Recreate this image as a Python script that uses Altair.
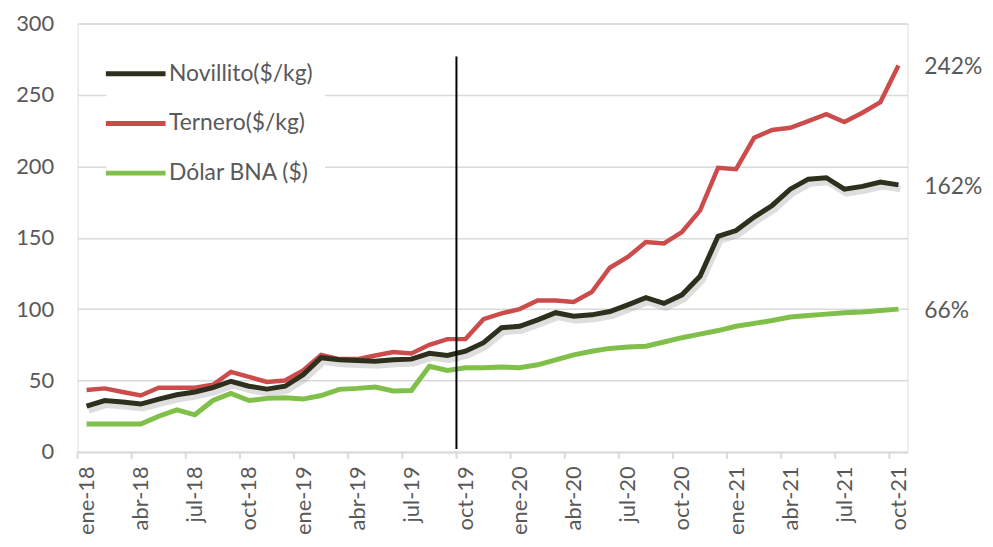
import altair as alt
import pandas as pd

# ---- data ----
meses = ["ene", "feb", "mar", "abr", "may", "jun", "jul", "ago", "sep", "oct", "nov", "dic"]
periodos = [f"{m}-{a}" for a in ["18", "19", "20", "21"] for m in meses][:46]

novillito = [32, 36, 35, 33.5, 37, 40, 42, 45, 49.5, 46, 44, 46,
             54, 66, 64.5, 64, 63.5, 64.5, 65, 69, 67.5, 70.5, 76.5, 87,
             88, 92.5, 97.5, 95, 96, 98.3, 103, 108, 104, 110, 123, 151,
             155, 164.5, 172.6, 184, 191, 192, 184, 186, 189, 187]
ternero = [43.4, 44.5, 42, 39.5, 45, 45, 45, 47, 56, 52.5, 49, 50,
           57, 68, 65, 65, 67.5, 70, 69, 75, 79, 79, 93, 97,
           100, 106, 106, 105, 112, 129, 136.5, 147, 146, 154, 169, 199,
           198, 220, 225.5, 227, 231.7, 236.6, 231, 237.5, 245, 270.7]
dolar = [19.5, 19.5, 19.5, 19.5, 25, 29.5, 26, 36, 41, 36, 37.5, 38,
         37, 39.5, 43.8, 44.5, 45.5, 42.7, 43, 60, 57, 59, 59, 59.5,
         59, 61, 64.5, 68, 70.5, 72.5, 73.5, 74, 77, 80, 82.5, 85,
         88, 90, 92, 94.5, 95.5, 96.5, 97.5, 98, 99, 100]

series = ["Novillito($/kg)", "Ternero($/kg)", "Dólar BNA ($)"]
colores = ["#2f2f1e", "#cc4c4c", "#80c04a"]
anotaciones = ["162%", "242%", "66%"]

tick_vals = list(range(0, 46, 3))
tick_labels = [periodos[i] for i in tick_vals]
tick_bounds = [v - 0.5 for v in tick_vals]

vline_x = [20.5]
vline_y = [2]
vline_y2 = [277]

# ---- tables ----
rows = []
for name, vals in zip(series, [novillito, ternero, dolar]):
    for i, v in enumerate(vals):
        rows.append({"idx": i, "periodo": periodos[i], "serie": name, "valor": v})
df = pd.DataFrame(rows)

ann_df = pd.DataFrame({
    "idx": [45, 45, 45],
    "valor": [novillito[-1], ternero[-1], dolar[-1]],
    "texto": anotaciones,
})
vline_df = pd.DataFrame({"x": vline_x, "y": vline_y, "y2": vline_y2})
ticks_df = pd.DataFrame({"x": tick_bounds})

FONT = "Lato"
GRAY = "#595959"
GRID = "#d9d9d9"
H = 431

label_expr = "[" + ",".join(f"'{t}'" for t in tick_labels) + "][round(datum.value/3)]"

x_scale = alt.Scale(domain=[-0.5, 45.5], nice=False, zero=False)
x_enc = alt.X(
    "idx:Q",
    scale=x_scale,
    axis=alt.Axis(
        values=tick_vals, labelExpr=label_expr, labelAngle=-90,
        labelFontSize=22, labelColor=GRAY, labelFont=FONT, labelPadding=14,
        ticks=False, domainColor=GRID, domainWidth=2, grid=False, title=None,
    ),
)
y_enc = alt.Y(
    "valor:Q",
    scale=alt.Scale(domain=[0, 300], nice=False),
    axis=alt.Axis(
        values=[0, 50, 100, 150, 200, 250, 300], labelFontSize=22,
        labelColor=GRAY, labelFont=FONT, labelPadding=24, ticks=False,
        domain=False, gridColor=GRID, gridWidth=1.5, title=None,
    ),
)

color_enc = alt.Color(
    "serie:N",
    scale=alt.Scale(domain=series, range=colores),
    legend=alt.Legend(
        title=None, orient="none", legendX=29, legendY=21, padding=12,
        symbolType="M-2,0H2", symbolSize=900, symbolStrokeWidth=5,
        labelFontSize=23, labelFont=FONT, labelColor=GRAY, labelOffset=16,
        rowPadding=20, fillColor="white", direction="vertical",
    ),
)

base = alt.Chart(df).encode(x=x_enc, y=y_enc, color=color_enc)

line_green = base.transform_filter(alt.datum.serie == series[2]).mark_line(strokeWidth=5)
line_red = base.transform_filter(alt.datum.serie == series[1]).mark_line(strokeWidth=4.5)
shadow = alt.Chart(df).transform_filter(alt.datum.serie == series[0]).mark_line(
    strokeWidth=7, color="#a0a0a0", opacity=0.35, xOffset=2, yOffset=4
).encode(x=x_enc, y=y_enc)
line_black = base.transform_filter(alt.datum.serie == series[0]).mark_line(strokeWidth=5)

axis_ticks = alt.Chart(ticks_df).mark_rule(color=GRID, strokeWidth=2).encode(
    x=alt.X("x:Q", scale=x_scale), y=alt.value(H), y2=alt.value(H + 7)
)

vline = alt.Chart(vline_df).mark_rule(color="black", strokeWidth=2).encode(
    x="x:Q", y="y:Q", y2="y2:Q"
)

ann = alt.Chart(ann_df).mark_text(
    align="left", baseline="middle", dx=26, dy=2, fontSize=23, font=FONT, color=GRAY
).encode(x="idx:Q", y="valor:Q", text="texto:N")

chart = alt.layer(axis_ticks, line_green, line_red, shadow, line_black, vline, ann).properties(
    width=835, height=H,
    autosize=alt.AutoSizeParams(type="none"),
    padding={"left": 70, "top": 14, "right": 78, "bottom": 92},
).configure_view(stroke=None).configure(background="white")

chart.save("out.html", embed_options={"renderer": "svg", "actions": False})
